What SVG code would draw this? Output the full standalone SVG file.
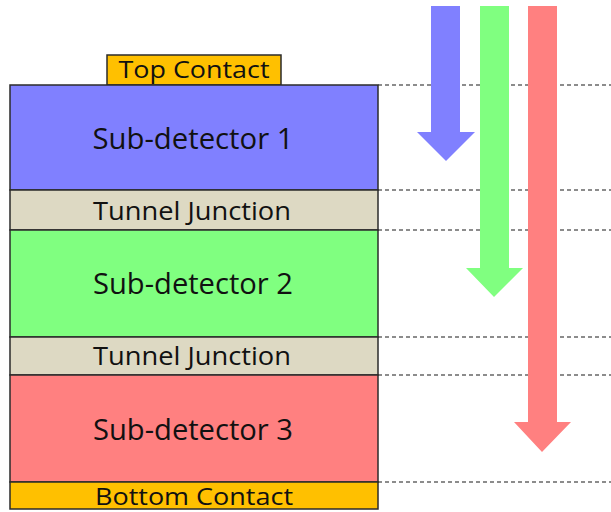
<svg xmlns="http://www.w3.org/2000/svg" width="611" height="512" viewBox="0 0 611 512">
  <style>
    .layer { stroke: #2b2b2b; stroke-width: 1.5; }
    .det1 { fill: #8080FF; }
    .det2 { fill: #80FF80; }
    .det3 { fill: #FF8080; }
    .tj { fill: #DDD9C3; }
    .contact { fill: #FFC000; }
    .lbl { font-family: "Open Sans", "Liberation Sans", Arial, sans-serif; fill: #111; text-anchor: middle; }
    .big { font-size: 30px; }
    .mid { font-size: 26px; }
    .small { font-size: 24px; }
    .guide { stroke: #1a1a1a; stroke-width: 1.2; stroke-dasharray: 4 3; fill: none; }
  </style>
  <rect width="611" height="512" fill="#ffffff"/>

  <!-- dashed level guides -->
  <g id="connectors">
    <line class="guide" x1="378" y1="85" x2="611" y2="85"/>
    <line class="guide" x1="378" y1="190" x2="611" y2="190"/>
    <line class="guide" x1="378" y1="230" x2="611" y2="230"/>
    <line class="guide" x1="378" y1="337" x2="611" y2="337"/>
    <line class="guide" x1="378" y1="375" x2="611" y2="375"/>
    <line class="guide" x1="378" y1="482" x2="611" y2="482"/>
  </g>

  <!-- penetration arrows -->
  <g id="arrow-blue">
    <polygon class="det1" points="431,6 460,6 460,132 475,132 446,161 417,132 431,132"/>
  </g>
  <g id="arrow-green">
    <polygon class="det2" points="480,6 509,6 509,268 523,268 494,297 466,268 480,268"/>
  </g>
  <g id="arrow-red">
    <polygon class="det3" points="528,6 557,6 557,422 571,422 542,452 514,422 528,422"/>
  </g>

  <g id="top-contact">
    <rect class="layer contact" x="107" y="55" width="174" height="30"/>
    <text class="lbl small" x="194" y="78" textLength="151" lengthAdjust="spacingAndGlyphs">Top Contact</text>
  </g>
  <g id="sub-detector-1">
    <rect class="layer det1" x="10" y="85" width="368" height="105"/>
    <text class="lbl big" x="193" y="149" textLength="201" lengthAdjust="spacingAndGlyphs">Sub-detector 1</text>
  </g>
  <g id="tunnel-junction-1">
    <rect class="layer tj" x="10" y="190" width="368" height="40"/>
    <text class="lbl mid" x="192" y="220" textLength="198" lengthAdjust="spacingAndGlyphs">Tunnel Junction</text>
  </g>
  <g id="sub-detector-2">
    <rect class="layer det2" x="10" y="230" width="368" height="107"/>
    <text class="lbl big" x="193" y="294" textLength="200" lengthAdjust="spacingAndGlyphs">Sub-detector 2</text>
  </g>
  <g id="tunnel-junction-2">
    <rect class="layer tj" x="10" y="337" width="368" height="38"/>
    <text class="lbl mid" x="192" y="365" textLength="198" lengthAdjust="spacingAndGlyphs">Tunnel Junction</text>
  </g>
  <g id="sub-detector-3">
    <rect class="layer det3" x="10" y="375" width="368" height="107"/>
    <text class="lbl big" x="193" y="440" textLength="200" lengthAdjust="spacingAndGlyphs">Sub-detector 3</text>
  </g>
  <g id="bottom-contact">
    <rect class="layer contact" x="10" y="482" width="368" height="27"/>
    <text class="lbl small" x="194" y="505" textLength="198" lengthAdjust="spacingAndGlyphs">Bottom Contact</text>
  </g>
</svg>
